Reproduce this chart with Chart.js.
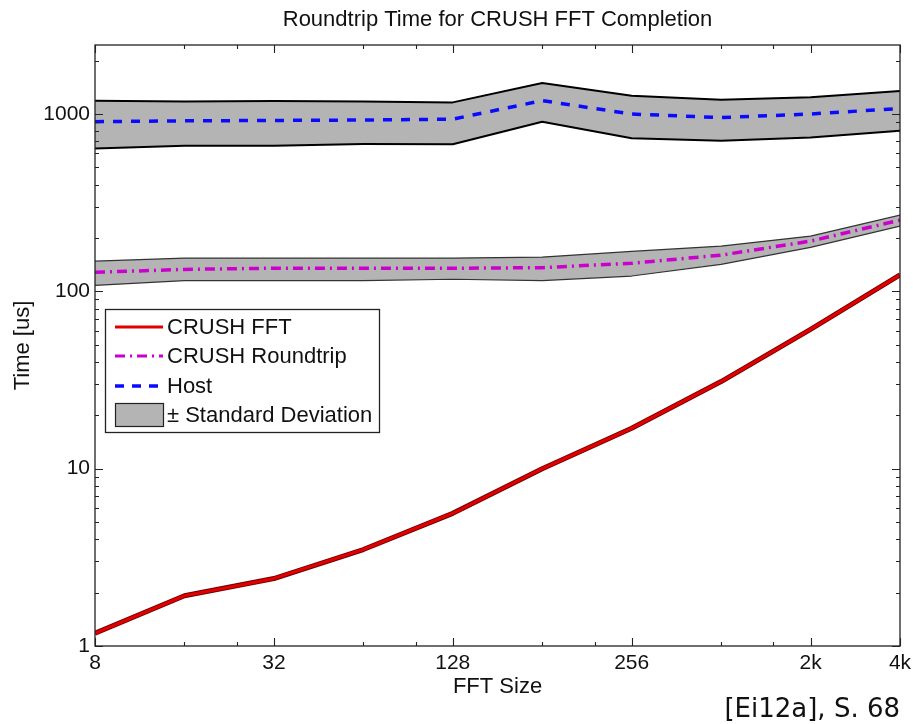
<!DOCTYPE html>
<html>
<head>
<meta charset="utf-8">
<script src="https://cdn.jsdelivr.net/npm/chart.js@4.4.1/dist/chart.umd.min.js"></script>
<style>
html,body{margin:0;padding:0;background:#fff;}
#wrap{position:relative;width:913px;height:724px;overflow:hidden;}
#cite{position:absolute;right:13px;top:695px;font-family:"DejaVu Sans",Verdana,sans-serif;font-size:26px;line-height:26px;color:#111;white-space:nowrap;}
</style>
</head>
<body>
<div id="wrap">
  <canvas id="c" width="913" height="724"></canvas>
  <div id="cite">[Ei12a], S. 68</div>
</div>
<script>
// ---- data ----
const fftSizes        = [8, 16, 32, 64, 128, 256, 512, 1024, 2048, 4096];
const crushFFT        = [1.18, 1.92, 2.40, 3.5, 5.6, 10.0, 16.9, 31, 61, 124];
const crushRoundtrip  = [128, 133, 135, 135, 135, 136, 144, 160, 192, 252];
const roundtripUpper  = [148, 154, 154, 154, 154, 156, 168, 180, 205, 269];
const roundtripLower  = [108, 115, 115, 115, 117, 115, 122, 142, 177, 233];
const host            = [905, 915, 920, 925, 935, 1190, 1000, 955, 1000, 1075];
const hostUpper       = [1189, 1178, 1183, 1175, 1163, 1497, 1269, 1205, 1242, 1349];
const hostLower       = [640, 662, 662, 677, 675, 904, 729, 707, 738, 805];

// ---- ticks ----
const xTickValues = [8, 32, 128, 512, 2048, 4096];
const xTickLabels = ['8', '32', '128', '256', '2k', '4k'];
const xMinorTicks = [16, 24, 64, 96, 256, 384, 1024, 1536];
const yTickValues = [1, 10, 100, 1000];
const yTickLabels = ['1', '10', '100', '1000'];
const yMinorTicks = [2, 3, 4, 5, 6, 7, 8, 9, 20, 30, 40, 50, 60, 70, 80, 90,
                     200, 300, 400, 500, 600, 700, 800, 900, 2000];

const FONT = '"Liberation Sans", Arial, Helvetica, sans-serif';
const TEXT = '#111';
const BAND_FILL = '#b4b4b4';
const RED = '#e00000', MAGENTA = '#cc00cc', BLUE = '#0a0aff';

const pts = ys => fftSizes.map((n, i) => ({ x: n, y: ys[i] }));

const matlabDecor = {
  id: 'matlabDecor',
  afterDraw(chart) {
    const { ctx, chartArea: a, scales: { x, y } } = chart;
    ctx.save();
    // frame
    ctx.strokeStyle = '#222';
    ctx.lineWidth = 1.3;
    ctx.strokeRect(a.left, a.top, a.right - a.left, a.bottom - a.top);
    // ticks
    ctx.lineWidth = 1.1;
    const xt = (v, len) => {
      const p = Math.round(x.getPixelForValue(v)) + 0.5;
      ctx.beginPath();
      ctx.moveTo(p, a.bottom); ctx.lineTo(p, a.bottom - len);
      ctx.moveTo(p, a.top); ctx.lineTo(p, a.top + len);
      ctx.stroke();
    };
    const yt = (v, len) => {
      const p = Math.round(y.getPixelForValue(v)) + 0.5;
      ctx.beginPath();
      ctx.moveTo(a.left, p); ctx.lineTo(a.left + len, p);
      ctx.moveTo(a.right, p); ctx.lineTo(a.right - len, p);
      ctx.stroke();
    };
    xTickValues.forEach(v => xt(v, 8));
    xMinorTicks.forEach(v => xt(v, 4));
    yTickValues.forEach(v => yt(v, 8));
    yMinorTicks.forEach(v => yt(v, 4));

    // title
    ctx.fillStyle = TEXT;
    ctx.font = '22px ' + FONT;
    ctx.textAlign = 'center';
    ctx.textBaseline = 'middle';
    ctx.fillText('Roundtrip Time for CRUSH FFT Completion', (a.left + a.right) / 2, 20);

    // legend
    const L = { x: 105, y: 309, w: 274, h: 123 };
    ctx.fillStyle = '#fff';
    ctx.fillRect(L.x, L.y, L.w, L.h);
    ctx.strokeStyle = '#222';
    ctx.lineWidth = 1.3;
    ctx.strokeRect(L.x + 0.5, L.y + 0.5, L.w, L.h);
    const sx0 = 115, sx1 = 163, tx = 167;
    const line = (yy, color, w, dash) => {
      ctx.save();
      ctx.strokeStyle = color; ctx.lineWidth = w; ctx.setLineDash(dash);
      ctx.beginPath(); ctx.moveTo(sx0, yy); ctx.lineTo(sx1, yy); ctx.stroke();
      ctx.restore();
    };
    line(327, RED, 3, []);
    line(356, MAGENTA, 3, [10, 5, 2, 5]);
    line(386, BLUE, 3.5, [9, 8]);
    ctx.fillStyle = BAND_FILL;
    ctx.fillRect(sx0, 403, sx1 - sx0, 23);
    ctx.strokeStyle = '#222'; ctx.lineWidth = 1.2;
    ctx.strokeRect(sx0 + 0.5, 403.5, sx1 - sx0, 23);
    ctx.fillStyle = TEXT;
    ctx.font = '22px ' + FONT;
    ctx.textAlign = 'left';
    ctx.textBaseline = 'middle';
    ctx.fillText('CRUSH FFT', tx, 328);
    ctx.fillText('CRUSH Roundtrip', tx, 357);
    ctx.fillText('Host', tx, 387);
    ctx.fillText('\u00B1 Standard Deviation', tx, 416);
    ctx.restore();
  }
};

new Chart(document.getElementById('c'), {
  type: 'line',
  data: {
    datasets: [
      { label: 'CRUSH FFT', data: pts(crushFFT), borderColor: RED, borderWidth: 3.2, order: 0 },
      { label: 'CRUSH FFT edge', data: pts(crushFFT), borderColor: '#6a0000', borderWidth: 5, order: 1 },
      { label: 'CRUSH Roundtrip', data: pts(crushRoundtrip), borderColor: MAGENTA, borderWidth: 3.5, borderDash: [10, 5, 2, 5], order: 2 },
      { label: 'Host', data: pts(host), borderColor: BLUE, borderWidth: 3.5, borderDash: [9, 9], order: 2 },
      { label: 'Host + std', data: pts(hostUpper), borderColor: '#000', borderWidth: 2, backgroundColor: BAND_FILL, fill: '+1', order: 6 },
      { label: 'Host - std', data: pts(hostLower), borderColor: '#000', borderWidth: 2, fill: false, order: 5 },
      { label: 'Roundtrip + std', data: pts(roundtripUpper), borderColor: '#333', borderWidth: 1.2, backgroundColor: BAND_FILL, fill: '+1', order: 6 },
      { label: 'Roundtrip - std', data: pts(roundtripLower), borderColor: '#333', borderWidth: 1.2, fill: false, order: 5 }
    ]
  },
  options: {
    responsive: false,
    animation: false,
    devicePixelRatio: 1,
    layout: { padding: { top: 45, right: 13, left: 0, bottom: 0 } },
    elements: {
      point: { radius: 0, hoverRadius: 0 },
      line: { tension: 0, borderCapStyle: 'butt', borderJoinStyle: 'round' }
    },
    plugins: {
      legend: { display: false },
      tooltip: { enabled: false },
      title: { display: false },
      filler: { drawTime: 'beforeDatasetsDraw' }
    },
    scales: {
      x: {
        type: 'logarithmic',
        min: 8, max: 4096,
        grid: { display: false, drawTicks: false },
        border: { display: false },
        afterBuildTicks: s => { s.ticks = xTickValues.map(v => ({ value: v })); },
        afterFit: s => { s.height = 78; s.paddingLeft = 0; s.paddingRight = 0; },
        ticks: {
          autoSkip: false, maxRotation: 0, minRotation: 0, padding: 5,
          color: TEXT, font: { family: FONT, size: 21 },
          callback: v => { const i = xTickValues.indexOf(v); return i >= 0 ? xTickLabels[i] : ''; }
        },
        title: { display: true, text: 'FFT Size', color: TEXT, font: { family: FONT, size: 22 }, padding: { top: 0, bottom: 24 } }
      },
      y: {
        type: 'logarithmic',
        min: 1, max: 2450,
        grid: { display: false, drawTicks: false },
        border: { display: false },
        afterBuildTicks: s => { s.ticks = yTickValues.map(v => ({ value: v })); },
        afterFit: s => { s.width = 95; s.paddingTop = 0; s.paddingBottom = 0; },
        ticks: {
          autoSkip: false, padding: 5,
          color: TEXT, font: { family: FONT, size: 21 },
          callback: v => { const i = yTickValues.indexOf(v); return i >= 0 ? yTickLabels[i] : ''; }
        },
        title: { display: true, text: 'Time [us]', color: TEXT, font: { family: FONT, size: 22 }, padding: { top: 10, bottom: 0 } }
      }
    }
  },
  plugins: [matlabDecor]
});
</script>
</body>
</html>
